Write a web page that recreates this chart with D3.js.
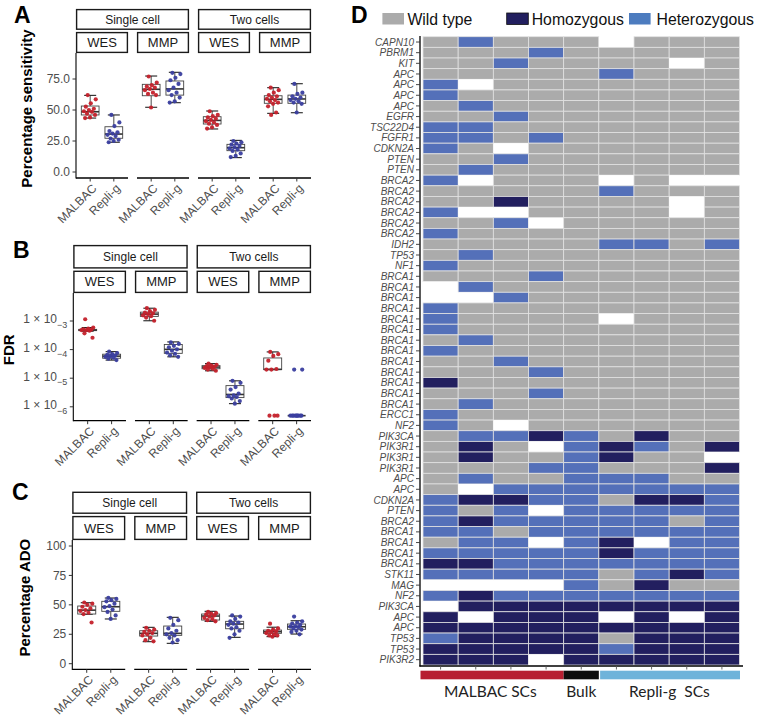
<!DOCTYPE html>
<html><head><meta charset="utf-8">
<script src="https://cdn.jsdelivr.net/npm/d3@7"></script>
<style>body{margin:0;background:#fff}svg{display:block}</style>
</head><body><svg id="c" width="759" height="716"></svg>
<script>
// ---------------- DATA ----------------
const strip1 = ["Single cell", "Two cells"];
const strip2 = ["WES", "MMP"];
const methods = ["MALBAC", "Repli-g"];
// group order: SC-WES-MALBAC, SC-WES-Repli-g, SC-MMP-MALBAC, SC-MMP-Repli-g, TC-WES-MALBAC, TC-WES-Repli-g, TC-MMP-MALBAC, TC-MMP-Repli-g
const sensTicks = [0, 25, 50, 75];
const sensPoints = [
  [62, 58.6, 55.4, 52.7, 51, 50, 49, 48.5, 47, 46, 44, 43.5],
  [46, 40, 37, 33, 32, 31, 30, 29, 27, 26, 25, 24],
  [77, 72, 70, 69, 68, 67, 66, 64, 63, 62, 52],
  [80, 79, 76, 74, 71, 68, 66, 64, 62, 60, 57, 56],
  [49, 46, 45, 44, 43, 42, 41, 40, 39, 38, 36, 35],
  [25, 24, 23, 22, 21, 20, 19, 18, 17, 15, 13, 12],
  [68, 66, 64, 62, 61, 60, 59, 58, 57, 56, 55, 53, 48, 46],
  [71, 64, 63, 61, 60, 59, 58, 57, 56, 55, 48]
];
// [lower whisker, q1, median, q3, upper whisker]
const sensBox = [
  [43.5, 46, 48.6, 53.2, 61.8],
  [24, 27.2, 30.6, 36.5, 46],
  [52.2, 61.5, 66.7, 70.7, 77.4],
  [55.9, 62, 67, 73.4, 80.4],
  [34.7, 38.7, 41.6, 44.6, 49.2],
  [11.6, 17.2, 19.6, 22.3, 25.5],
  [47.3, 55.4, 58.6, 61.5, 68],
  [47.8, 55.4, 58.9, 62, 71.2]
];
const fdrTicks = [1e-3, 1e-4, 1e-5, 1e-6];
const fdrPoints = [
  [1.15e-3, 5.9e-4, 5.4e-4, 5.1e-4, 5.0e-4, 4.8e-4, 4.8e-4, 4.6e-4, 3.7e-4, 2.6e-4],
  [8.5e-5, 7.6e-5, 6.9e-5, 6.5e-5, 6.2e-5, 5.9e-5, 5.6e-5, 5.2e-5, 4.8e-5, 4.3e-5],
  [2.8e-3, 2.45e-3, 2.2e-3, 1.95e-3, 1.86e-3, 1.74e-3, 1.58e-3, 1.48e-3, 1.32e-3, 1.02e-3],
  [1.78e-4, 1.58e-4, 1.35e-4, 1.2e-4, 1.02e-4, 9.1e-5, 7.9e-5, 7.1e-5, 6.3e-5, 5.6e-5],
  [3.24e-5, 2.95e-5, 2.75e-5, 2.63e-5, 2.51e-5, 2.4e-5, 2.29e-5, 2.14e-5, 2.0e-5, 1.82e-5],
  [8.1e-6, 6.9e-6, 4.9e-6, 4.0e-6, 2.9e-6, 2.5e-6, 2.35e-6, 2.2e-6, 1.95e-6, 1.58e-6, 1.29e-6],
  [8.3e-5, 6.9e-5, 6.0e-5, 4.1e-5, 2.1e-5, 2.0e-5, 2.0e-5, 4.9e-7, 4.9e-7, 4.9e-7],
  [2.0e-5, 2.0e-5, 4.9e-7, 4.9e-7, 4.9e-7, 4.9e-7, 4.9e-7, 4.9e-7, 4.9e-7, 4.9e-7, 4.9e-7]
];
const fdrBox = [
  [4.4e-4, 4.6e-4, 4.8e-4, 5.1e-4, 5.9e-4],
  [4.3e-5, 5.0e-5, 5.9e-5, 6.9e-5, 8.5e-5],
  [1.02e-3, 1.45e-3, 1.74e-3, 2.04e-3, 2.8e-3],
  [5.6e-5, 7.4e-5, 1.02e-4, 1.51e-4, 1.86e-4],
  [1.82e-5, 2.14e-5, 2.45e-5, 2.75e-5, 3.24e-5],
  [1.29e-6, 2.1e-6, 2.7e-6, 5.5e-6, 8.1e-6],
  [2.0e-5, 2.0e-5, 2.04e-5, 5.1e-5, 8.3e-5],
  [4.9e-7, 4.9e-7, 4.9e-7, 4.9e-7, 4.9e-7]
];
const adoTicks = [0, 25, 50, 75, 100];
const adoPoints = [
  [52, 51, 50, 48.4, 47, 45.6, 44.8, 43.3, 42.2, 35],
  [56, 55, 54, 53, 51, 49, 48, 46, 44, 41, 38],
  [30.5, 29, 28, 27, 26, 25, 24, 22, 20, 19],
  [39, 37, 33, 30, 28, 26, 25, 24, 22, 20, 18],
  [44, 43, 42.5, 42, 41, 40, 39, 38, 37, 36],
  [41, 40, 38, 36, 35, 34, 33, 31, 30, 28, 25, 22],
  [34, 30, 29, 28, 27.5, 27, 26, 25, 24, 24, 23],
  [40, 36, 35, 34, 33, 32, 31.5, 31, 30, 29, 28, 27, 25]
];
const adoBox = [
  [42, 42.2, 45.5, 49, 51.8],
  [38, 44.5, 48.4, 53, 55.8],
  [18.7, 23.5, 25.8, 28, 30.9],
  [17.3, 24.1, 25.8, 32, 39.4],
  [36, 37.1, 40.5, 42.2, 44.5],
  [22.4, 29.7, 33.7, 36, 40.5],
  [23, 25.8, 27.2, 28.6, 31],
  [25.2, 29.2, 31.4, 33.7, 36.5]
];
// Heatmap
const statusNames = ["Wild type", "Homozygous", "Heterozygous"];
const genes = ["CAPN10","PBRM1","KIT","APC","APC","APC","APC","EGFR","TSC22D4","FGFR1","CDKN2A","PTEN","PTEN",
  "BRCA2","BRCA2","BRCA2","BRCA2","BRCA2","BRCA2","IDH2","TP53","NF1",
  "BRCA1","BRCA1","BRCA1","BRCA1","BRCA1","BRCA1","BRCA1","BRCA1","BRCA1","BRCA1","BRCA1","BRCA1","BRCA1",
  "ERCC1","NF2","PIK3CA","PIK3R1","PIK3R1","PIK3R1","APC","APC","CDKN2A","PTEN","BRCA2",
  "BRCA1","BRCA1","BRCA1","BRCA1","STK11","MAG","NF2","PIK3CA","APC","APC","TP53","TP53","PIK3R2"];
// G = wild type, H = homozygous, T = heterozygous, . = no data ; 9 samples per row
const genotypes = [
  "GTGGG.GGG","GGGTGGGGG","GGTGGGG.G","GGGGGTGGG","T.GGGGGGG","TGGGGGGGG","GTGGGGGGG","GGTGGGGGG",
  "TTGGGGGGG","TTGTGGGGG","TG.GGGGGG","GGTGGGGGG","GTGGGGGGG","T.GGG.G..","GGGGGTGGG","GGHGGGG.G",
  "T..GGGG.G","GGT.GGGGG","TGGGGGGGG","GGGGGTTGT","GTGGGGGGG","TGGGGGGGG","GGGTGGGGG",".TGGGGGGG",
  "..TGGGGGG","TGGGGGGGG","TGGGG.GGG","TGGGGGGGG","GTGGGGGGG","TGGGGGGGG","GGTGGGGGG","GGGTGGGGG",
  "HGGGGGGGG","GGGTGGGGG","GTGGGGGGG","TGGGGGGGG","TG.GGGGGG","GTTHTGHGG","GHG.THTGH","GHGGTHGG.",
  "GGGTTGGGH","GTGGTTTGG","G.TTTTTTT","THHTTGHHT","TGT.TTTTT","THTTTTTGT","TTGTTTTTT","GTT.TH.TT",
  "TTTTTHTTT","HHTTTTTTT","TTTTTGTHT","....TGHGG","THTTTTTTT",".HHHHHHHH","H.HHH.H.H","HHHHHHHHH",
  "THHHHGHHH","HHHHHTHHH","HHH.HHHHH"
];
const sampleGroups = ["MALBAC SCs", "Bulk", "Repli-g  SCs"];
const sampleGroupSizes = [4, 1, 4];

// ---------------- DRAW ----------------
const FONT = '"Liberation Sans", Arial, Helvetica, sans-serif';
const svg = d3.select("#c").style("font-family", FONT);
const RED = "#c4212b", BLUE = "#3a3e9f";
const GREY30 = "#4d4d4d";

function panel(cfg) {
  const g = svg.append("g");
  const x0 = cfg.x0, gap = 9, fw = (311 - x0 - 3 * gap) / 4;
  const fx = i => x0 + i * (fw + gap);
  const ys = cfg.y;
  const h1 = cfg.s2y - 2.2 - cfg.s1y, h2 = cfg.top - cfg.s2y;
  strip1.forEach((s, j) => {
    const xa = fx(2 * j), xe = fx(2 * j + 1) + fw;
    g.append("rect").attr("x", xa + 0.6).attr("y", cfg.s1y + 0.6).attr("width", xe - xa - 1.2).attr("height", h1 - 1.2)
      .attr("fill", "#fff").attr("stroke", "#1a1a1a").attr("stroke-width", 1.4);
    g.append("text").attr("x", (xa + xe) / 2).attr("y", cfg.s1y + h1 / 2 + 4.2).attr("text-anchor", "middle")
      .attr("font-size", 12).attr("fill", "#1a1a1a").text(s);
  });
  for (let i = 0; i < 4; i++) {
    const xa = fx(i);
    g.append("rect").attr("x", xa + 0.6).attr("y", cfg.s2y + 0.6).attr("width", fw - 1.2).attr("height", h2 - 1.2)
      .attr("fill", "#fff").attr("stroke", "#1a1a1a").attr("stroke-width", 1.4);
    g.append("text").attr("x", xa + fw / 2).attr("y", cfg.s2y + h2 / 2 + 4.6).attr("text-anchor", "middle")
      .attr("font-size", 13).attr("fill", "#1a1a1a").text(strip2[i % 2]);
  }
  g.append("line").attr("x1", x0).attr("x2", x0).attr("y1", cfg.top).attr("y2", cfg.bottom + 0.6)
    .attr("stroke", "#000").attr("stroke-width", 1.1);
  cfg.ticks.forEach(t => {
    const yy = ys(t);
    g.append("line").attr("x1", x0 - 3.5).attr("x2", x0).attr("y1", yy).attr("y2", yy).attr("stroke", "#333").attr("stroke-width", 1);
    if (cfg.log) {
      const e = Math.round(Math.log10(t));
      const tx = g.append("text").attr("x", x0 - 6).attr("y", yy + 2.3).attr("text-anchor", "end")
        .attr("font-size", 12).attr("fill", GREY30);
      tx.append("tspan").text("1 \u00d7 10");
      tx.append("tspan").attr("dy", 4.9).attr("font-size", 9).text("\u2212" + Math.abs(e));
    } else {
      g.append("text").attr("x", x0 - 6).attr("y", yy + 4.2).attr("text-anchor", "end")
        .attr("font-size", 12).attr("fill", GREY30).text(cfg.fmt(t));
    }
  });
  for (let i = 0; i < 4; i++) {
    // ggplot-like discrete expansion of 0.6 category units
    const band = fw / 2.2;
    const cx = j => fx(i) + band * (0.6 + j);
    const bw = band * 0.75;
    g.append("line").attr("x1", fx(i)).attr("x2", fx(i) + fw).attr("y1", cfg.bottom).attr("y2", cfg.bottom)
      .attr("stroke", "#000").attr("stroke-width", 1.3);
    methods.forEach((m, j) => {
      const c = cx(j);
      g.append("line").attr("x1", c).attr("x2", c).attr("y1", cfg.bottom).attr("y2", cfg.bottom + 3.5).attr("stroke", "#333");
      g.append("text").attr("transform", `translate(${c + 1},${cfg.bottom + 5}) rotate(-45)`)
        .attr("text-anchor", "end").attr("dy", "0.72em").attr("font-size", 12).attr("fill", GREY30).text(m);
      const k = i * 2 + j;
      const [lo, q1, md, q3, hi] = cfg.box[k];
      g.append("line").attr("x1", c).attr("x2", c).attr("y1", ys(q3)).attr("y2", ys(hi)).attr("stroke", "#333").attr("stroke-width", 0.9);
      g.append("line").attr("x1", c).attr("x2", c).attr("y1", ys(q1)).attr("y2", ys(lo)).attr("stroke", "#333").attr("stroke-width", 0.9);
      [lo, hi].forEach(v => g.append("line").attr("x1", c - 6).attr("x2", c + 6).attr("y1", ys(v)).attr("y2", ys(v))
        .attr("stroke", "#222").attr("stroke-width", 1.1));
      g.append("rect").attr("x", c - bw / 2).attr("y", ys(q3)).attr("width", bw).attr("height", Math.max(0, ys(q1) - ys(q3)))
        .attr("fill", "#fff").attr("stroke", "#444").attr("stroke-width", 0.9);
      g.append("line").attr("x1", c - bw / 2).attr("x2", c + bw / 2).attr("y1", ys(md)).attr("y2", ys(md))
        .attr("stroke", "#333").attr("stroke-width", 1.6);
      const col = j === 0 ? RED : BLUE;
      cfg.pts[k].forEach((v, n) => {
        const off = (((n * 0.618034 + 0.31) % 1) - 0.5) * 13;
        g.append("circle").attr("cx", c + off).attr("cy", ys(v)).attr("r", 2.1).attr("fill", col).attr("opacity", 0.95);
      });
    });
  }
  const tc = (cfg.top + cfg.bottom) / 2 - 7;
  g.append("text").attr("transform", `translate(${cfg.titleX},${tc}) rotate(-90)`).attr("text-anchor", "middle")
    .attr("font-size", 15).attr("font-weight", "bold").attr("fill", "#000").text(cfg.title);
  g.append("text").attr("x", cfg.lx).attr("y", cfg.ly).attr("font-size", 23).attr("font-weight", "bold").attr("fill", "#000").text(cfg.label);
}

panel({ label: "A", lx: 14, ly: 23, title: "Percentage sensitivity", titleX: 31.5,
  x0: 76, s1y: 9, s2y: 32, top: 53, bottom: 178,
  y: d3.scaleLinear().domain([0, 75]).range([172, 79]), ticks: sensTicks, fmt: d3.format(".1f"),
  pts: sensPoints, box: sensBox });

const fdrY = d3.scaleLog().domain([Math.pow(10, -3 - (420.7 - 321) / 28.6), Math.pow(10, -3 + (321 - 293) / 28.6)]).range([420.7, 293]);
panel({ label: "B", lx: 13, ly: 258, title: "FDR", titleX: 13.5, log: true,
  x0: 73.3, s1y: 245, s2y: 270.7, top: 293, bottom: 420.7,
  y: fdrY, ticks: fdrTicks, pts: fdrPoints, box: fdrBox });

panel({ label: "C", lx: 12, ly: 500, title: "Percentage ADO", titleX: 30,
  x0: 72.3, s1y: 491.7, s2y: 516, top: 540, bottom: 669.3,
  y: d3.scaleLinear().domain([0, 100]).range([663.7, 546]), ticks: adoTicks, fmt: d3.format("d"),
  pts: adoPoints, box: adoBox });

// ---------- Heatmap D ----------
const hcol = { G: "#ababab", H: "#221f5f", T: "#5470b9" };
const nCol = genotypes[0].length;
const hx = d3.scaleBand().domain(d3.range(nCol)).range([423, 739.5]);
const hy = d3.scaleBand().domain(d3.range(genes.length)).range([36.7, 665]);
const hg = svg.append("g");
genotypes.forEach((row, r) => {
  row.split("").forEach((ch, c) => {
    hg.append("rect").attr("x", hx(c)).attr("y", hy(r)).attr("width", hx.bandwidth()).attr("height", hy.bandwidth())
      .attr("fill", hcol[ch] || "#fff").attr("stroke", ch === "." ? "none" : "#e2e2e2").attr("stroke-width", 0.8);
  });
});
hg.append("line").attr("x1", 420).attr("x2", 420).attr("y1", 36).attr("y2", 666.5).attr("stroke", "#000").attr("stroke-width", 1.3);
hg.append("line").attr("x1", 419.4).attr("x2", 743).attr("y1", 666).attr("y2", 666).attr("stroke", "#000").attr("stroke-width", 1.3);
genes.forEach((gname, r) => {
  const yy = hy(r) + hy.bandwidth() / 2;
  hg.append("line").attr("x1", 416).attr("x2", 420).attr("y1", yy).attr("y2", yy).attr("stroke", "#333").attr("stroke-width", 0.9);
  hg.append("text").attr("x", 414).attr("y", yy + 3.6).attr("text-anchor", "end").attr("font-size", 10)
    .attr("font-style", "italic").attr("fill", GREY30).text(gname);
});
d3.range(nCol).forEach(c => {
  const xx = hx(c) + hx.bandwidth() / 2;
  hg.append("line").attr("x1", xx).attr("x2", xx).attr("y1", 666).attr("y2", 669.5).attr("stroke", "#555").attr("stroke-width", 0.9);
});
const groupCols = ["#b71f31", "#0d0d0d", "#6eb3da"];
let start = 0;
sampleGroups.forEach((gname, i) => {
  const a = start, b = start + sampleGroupSizes[i];
  let xa = hx(a), xe = b >= nCol ? hx.range()[1] : hx(b);
  if (i === 0) xa -= 2.5;
  if (i === 2) { xa += 1.3; xe += 0.5; }
  hg.append("rect").attr("x", xa).attr("y", 670.7).attr("width", xe - xa).attr("height", 8.6).attr("fill", groupCols[i]);
  hg.append("text").attr("x", (hx(a) + xe) / 2 - (i === 0 ? 3 : 0)).attr("y", 697).attr("text-anchor", "middle")
    .style("white-space", "pre")
    .attr("font-family", "Lato, 'Open Sans', sans-serif").attr("font-size", 15.5).attr("fill", "#222").text(gname);
  start = b;
});
const legX = [382.4, 506.7, 629];
const legCols = ["#ababab", "#221f5f", "#4d7cbf"];
statusNames.forEach((s, i) => {
  hg.append("rect").attr("x", legX[i]).attr("y", 13).attr("width", 21.6).attr("height", 11.5).attr("fill", legCols[i])
    .attr("stroke", i === 1 ? "#111" : "none").attr("stroke-width", 0.8);
  hg.append("text").attr("x", legX[i] + 25 + (i === 2 ? 2.5 : 0)).attr("y", 25).attr("font-size", 15.8).attr("fill", "#111").text(s);
});
svg.append("text").attr("x", 351).attr("y", 23).attr("font-size", 23).attr("font-weight", "bold").attr("fill", "#000").text("D");
</script></body></html>
